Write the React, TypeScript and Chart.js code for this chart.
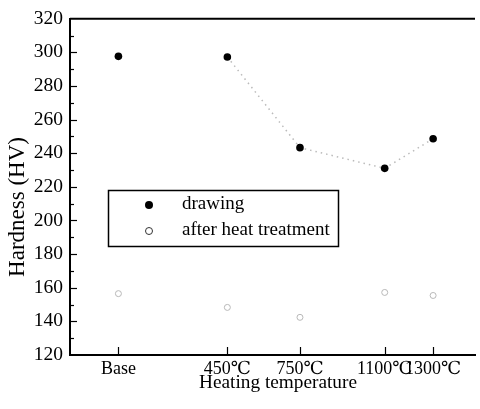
import React, { useEffect, useRef } from "react";
import { Chart, registerables } from "chart.js";

Chart.register(...registerables);

const categories = ["Base", "450℃", "750℃", "1100℃", "1300℃"];
const temperatures = [0, 450, 750, 1100, 1300];
const drawingHardness = [297.6, 297.2, 243.3, 231.0, 248.6];
const afterHeatHardness = [156.5, 148.3, 142.4, 157.2, 155.4];
const seriesNames = ["drawing", "after heat treatment"];
const yTitle = "Hardness (HV)";
const xTitle = "Heating temperature";

const FONT = "'Liberation Serif', 'DejaVu Serif', 'Times New Roman', serif";

const framePlugin = {
  id: "frame",
  afterDraw(chart: any) {
    const { ctx, chartArea, scales } = chart;
    const x = scales.x;
    const y = scales.y;
    ctx.save();
    ctx.strokeStyle = "#000";
    ctx.lineWidth = 2;
    ctx.beginPath();
    ctx.moveTo(chartArea.left, chartArea.top);
    ctx.lineTo(chartArea.right, chartArea.top);
    ctx.stroke();
    ctx.lineWidth = 1.2;
    for (let v = y.min; v <= y.max; v += 10) {
      const py = Math.round(y.getPixelForValue(v)) + 0.5;
      const len = v % 20 === 0 ? 7 : 4;
      if (v === y.max || v === y.min) continue;
      ctx.beginPath();
      ctx.moveTo(chartArea.left, py);
      ctx.lineTo(chartArea.left + len, py);
      ctx.stroke();
    }
    temperatures.forEach((t) => {
      const px = Math.round(x.getPixelForValue(t)) + 0.5;
      ctx.beginPath();
      ctx.moveTo(px, chartArea.bottom);
      ctx.lineTo(px, chartArea.bottom - 8);
      ctx.stroke();
    });
    ctx.fillStyle = "#000";
    ctx.textAlign = "center";
    ctx.textBaseline = "middle";
    ctx.font = `19.3px ${FONT}`;
    ctx.fillText(xTitle, 278, 383);
    ctx.save();
    ctx.translate(18, 207);
    ctx.rotate(-Math.PI / 2);
    ctx.font = `23px ${FONT}`;
    ctx.fillText(yTitle, 0, 0);
    ctx.restore();
    ctx.lineWidth = 1.5;
    ctx.strokeRect(108.5, 190.5, 230, 56);
    ctx.beginPath();
    ctx.arc(149, 205, 4, 0, Math.PI * 2);
    ctx.fillStyle = "#000";
    ctx.fill();
    ctx.beginPath();
    ctx.arc(149, 231, 3.5, 0, Math.PI * 2);
    ctx.lineWidth = 1;
    ctx.strokeStyle = "#333";
    ctx.stroke();
    ctx.fillStyle = "#000";
    ctx.textAlign = "left";
    ctx.font = `19px ${FONT}`;
    ctx.fillText(seriesNames[0], 182, 204);
    ctx.fillText(seriesNames[1], 182, 230);
    ctx.restore();
  },
};

export default function App() {
  const ref = useRef<HTMLCanvasElement | null>(null);
  useEffect(() => {
    if (!ref.current) return;
    const chart = new Chart(ref.current, {
      type: "scatter",
      data: {
        datasets: [
          {
            label: seriesNames[0],
            data: temperatures.map((t, i) => ({ x: t, y: drawingHardness[i] })),
            showLine: true,
            borderColor: "#bbb",
            borderWidth: 1.5,
            borderDash: [1.5, 4],
            segment: {
              borderColor: (c: any) => (c.p0DataIndex === 0 ? "rgba(0,0,0,0)" : "#bbb"),
            },
            pointRadius: 3.8,
            pointBackgroundColor: "#000",
            pointBorderColor: "#000",
            pointBorderWidth: 0,
          },
          {
            label: seriesNames[1],
            data: temperatures.map((t, i) => ({ x: t, y: afterHeatHardness[i] })),
            showLine: false,
            pointRadius: 3,
            pointBackgroundColor: "rgba(0,0,0,0)",
            pointBorderColor: "#b8b8b8",
            pointBorderWidth: 1,
          },
        ],
      },
      options: {
        animation: false,
        responsive: false,
        layout: { padding: { top: 16, right: 0, left: 0, bottom: 0 } },
        plugins: { legend: { display: false }, tooltip: { enabled: false } },
        scales: {
          x: {
            type: "linear",
            min: -200,
            max: 1473,
            afterFit: (s: any) => {
              s.height = 54;
            },
            afterBuildTicks: (s: any) => {
              s.ticks = temperatures.map((v) => ({ value: v }));
            },
            ticks: {
              autoSkip: false,
              maxRotation: 0,
              padding: 3,
              color: "#000",
              font: { family: FONT, size: 18 },
              callback: (v: any) => {
                const i = temperatures.indexOf(Number(v));
                return i >= 0 ? categories[i] : "";
              },
            },
            grid: { display: true, drawOnChartArea: false, drawTicks: false },
            border: { display: true, color: "#000", width: 2 },
          },
          y: {
            min: 120,
            max: 320,
            afterFit: (s: any) => {
              s.width = 70;
            },
            ticks: {
              stepSize: 20,
              padding: 7,
              color: "#000",
              font: { family: FONT, size: 19.5 },
            },
            grid: { display: true, drawOnChartArea: false, drawTicks: false },
            border: { display: true, color: "#000", width: 2 },
          },
        },
      },
      plugins: [framePlugin],
    } as any);
    return () => chart.destroy();
  }, []);
  return (
    <div style={{ position: "fixed", left: 0, top: 0, width: 480, height: 409, background: "#fff" }}>
      <canvas ref={ref} width={480} height={409} style={{ display: "block" }} />
    </div>
  );
}
